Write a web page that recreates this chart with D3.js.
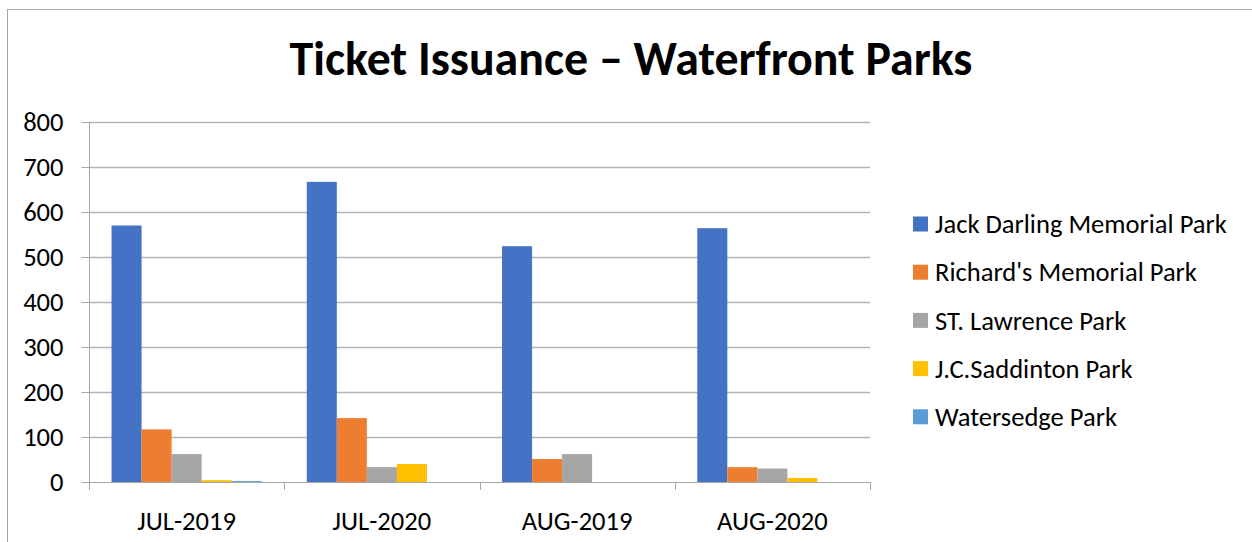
<!DOCTYPE html>
<html>
<head>
<meta charset="utf-8">
<script src="https://cdn.jsdelivr.net/npm/d3@7/dist/d3.min.js"></script>
<style>
  html, body { margin: 0; padding: 0; background: #fff; }
  svg { display: block; }
  text { font-family: Carlito, Lato, "Open Sans", sans-serif; fill: #000; }
</style>
</head>
<body>
<svg id="chart" width="1252" height="542"></svg>
<script>
const title = "Ticket Issuance \u2013 Waterfront Parks";
const categories = ["JUL-2019", "JUL-2020", "AUG-2019", "AUG-2020"];
const seriesNames = ["Jack Darling Memorial Park", "Richard's Memorial Park", "ST. Lawrence Park", "J.C.Saddinton Park", "Watersedge Park"];
const jackDarling = [570, 667, 524, 564];
const richards = [117, 142, 51, 33];
const stLawrence = [62, 33, 62, 30];
const saddinton = [4, 40, 0, 9];
const watersedge = [2, 0, 0, 0];
const yTicks = [0, 100, 200, 300, 400, 500, 600, 700, 800];
const colors = ["#4472C4", "#ED7D31", "#A5A5A5", "#FFC000", "#5B9BD5"];

const seriesValues = [jackDarling, richards, stLawrence, saddinton, watersedge];
const FONT = "Carlito, Lato, 'Open Sans', sans-serif";

const svg = d3.select("#chart");

// outer frame
svg.append("rect")
  .attr("x", 7.5).attr("y", 9.5)
  .attr("width", 1400).attr("height", 700)
  .attr("fill", "none").attr("stroke", "#A6A6A6").attr("stroke-width", 1);

const plot = { left: 89, right: 870, top: 122, bottom: 482 };

const x0 = d3.scaleBand().domain(categories).range([plot.left, plot.right]).paddingInner(0).paddingOuter(0);
const x1 = d3.scaleBand().domain(d3.range(seriesNames.length)).range([0, x0.bandwidth()]).paddingOuter(0.75).paddingInner(0);
const y = d3.scaleLinear().domain([0, 800]).range([plot.bottom, plot.top]);

// legend (first, to get font size)
const legend = svg.append("g");
const items = legend.selectAll("g").data(seriesNames).join("g")
  .attr("transform", (d, i) => `translate(913,${224 + i * 48.2})`);
items.append("rect").attr("x", 0).attr("y", -7.5).attr("width", 15).attr("height", 15)
  .attr("fill", (d, i) => colors[i]);
const lt = items.append("text").attr("x", 22).attr("y", 0).attr("dy", "0.35em").attr("font-size", 20).text(d => d);
const lw = lt.nodes()[0].getComputedTextLength();
const fs = 20 * 292 / lw;
lt.attr("font-size", fs);

// gridlines
svg.append("g").selectAll("line").data(yTicks.filter(t => t > 0)).join("line")
  .attr("x1", plot.left).attr("x2", plot.right)
  .attr("y1", d => Math.round(y(d)) + 0.5).attr("y2", d => Math.round(y(d)) + 0.5)
  .attr("stroke", "#B3B3B3").attr("stroke-width", 1.3);

// bars
const groups = svg.append("g").selectAll("g").data(categories).join("g")
  .attr("transform", c => `translate(${x0(c)},0)`);
groups.selectAll("rect").data((c, ci) => seriesValues.map((vals, si) => ({ si, v: vals[ci] })))
  .join("rect")
  .attr("x", d => x1(d.si))
  .attr("width", x1.bandwidth())
  .attr("y", d => y(d.v))
  .attr("height", d => y(0) - y(d.v))
  .attr("fill", d => colors[d.si]);

// y axis
const yAxis = d3.axisLeft(y).tickValues(yTicks).tickSize(8).tickPadding(18).tickFormat(d3.format("d"));
const gy = svg.append("g").attr("transform", `translate(${plot.left + 0.5},0)`).call(yAxis);
gy.attr("font-size", fs).attr("font-family", FONT);
gy.select(".domain").attr("stroke", "#A6A6A6").attr("d", `M0,${plot.top}V${plot.bottom}`);
gy.selectAll(".tick line").attr("stroke", "#A6A6A6");
gy.selectAll(".tick text").style("font-size", fs + "px").attr("fill", "#000");

// x axis
const xAxis = d3.axisBottom(x0).tickSize(0).tickPadding(0);
const gx = svg.append("g").attr("transform", `translate(0,${plot.bottom + 0.5})`).call(xAxis);
gx.attr("font-size", fs).attr("font-family", FONT);
gx.select(".domain").attr("stroke", "#A6A6A6").attr("d", `M${plot.left},0H${plot.right}`);
gx.selectAll(".tick line").remove();
gx.selectAll(".tick text").style("font-size", fs + "px").attr("fill", "#000").attr("y", 29).attr("dy", "0.71em");
// category boundary ticks
const bounds = categories.map(c => x0(c)).concat([plot.right]);
svg.append("g").selectAll("line").data(bounds).join("line")
  .attr("x1", d => Math.round(d) + 0.5).attr("x2", d => Math.round(d) + 0.5)
  .attr("y1", plot.bottom).attr("y2", plot.bottom + 8)
  .attr("stroke", "#A6A6A6");

// title
const t = svg.append("text").attr("x", 631).attr("y", 75).attr("text-anchor", "middle")
  .attr("font-size", 40).attr("font-weight", "bold").text(title);
const tw = t.node().getComputedTextLength();
t.attr("font-size", 40 * 683 / tw);
</script>
</body>
</html>
